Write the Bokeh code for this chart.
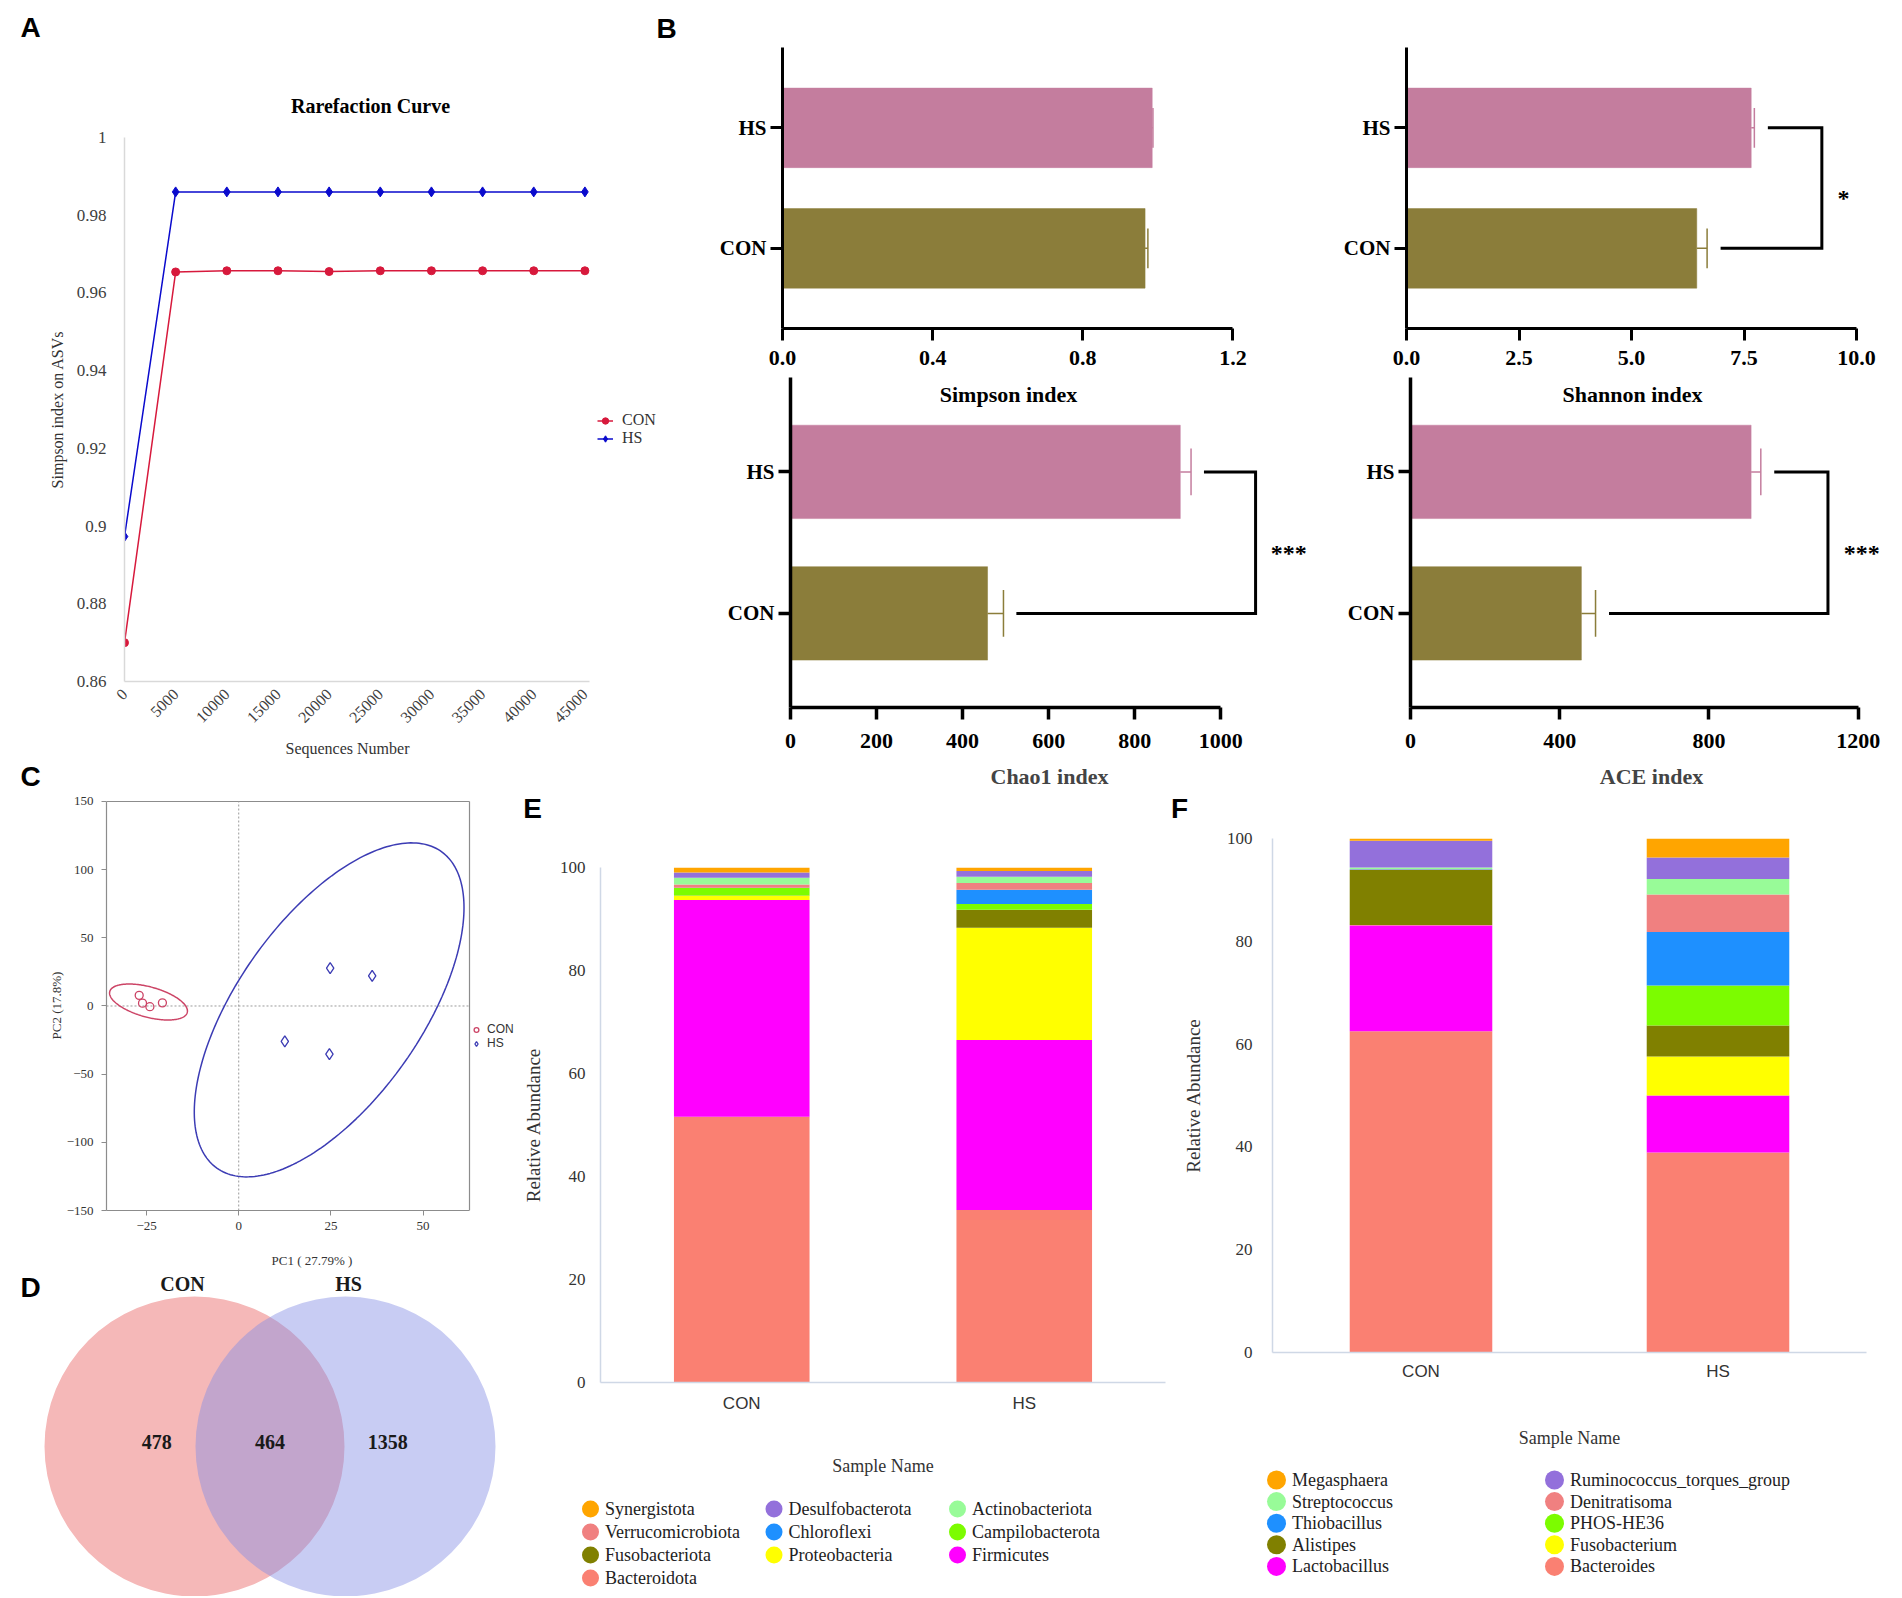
import math
import numpy as np
from bokeh.plotting import figure
from bokeh.models import (Range1d, FactorRange, FixedTicker, PrintfTickFormatter, Label,
                          Legend, LegendItem, ColumnDataSource)
from bokeh.layouts import row, column
from bokeh.embed import file_html
from bokeh.resources import INLINE
from bokeh.core.properties import value

# ---------------- data ----------------
# A: rarefaction curve
seq_depth = [0, 5000, 10000, 15000, 20000, 25000, 30000, 35000, 40000, 45000]
rare_con = [0.8700, 0.9654, 0.9657, 0.9657, 0.9655, 0.9657, 0.9657, 0.9657, 0.9657, 0.9657]
rare_hs = [0.8973, 0.9860, 0.9860, 0.9860, 0.9860, 0.9860, 0.9860, 0.9860, 0.9860, 0.9860]
rare_y_ticks = [0.86, 0.88, 0.90, 0.92, 0.94, 0.96, 0.98, 1.0]

# B: alpha diversity (mean, error)
groups = ["CON", "HS"]
group_colors = ["#8B7D3A", "#C47D9E"]
simpson_mean = [0.966, 0.985]
simpson_err = [0.0075, 0.002]
shannon_mean = [6.45, 7.66]
shannon_err = [0.23, 0.07]
chao1_mean = [458, 906]
chao1_err = [37, 25]
ace_mean = [458, 913]
ace_err = [38, 26]
simpson_ticks = [0, 0.4, 0.8, 1.2]
shannon_ticks = [0, 2.5, 5, 7.5, 10]
chao1_ticks = [0, 200, 400, 600, 800, 1000]
ace_ticks = [0, 400, 800, 1200]
sig_marks = ["", "*", "***", "***"]

# C: PCA
pca_con_x = [-27.0, -26.1, -24.1, -20.7]
pca_con_y = [7.8, 2.1, -0.5, 2.3]
pca_hs_x = [24.8, 36.2, 12.5, 24.6]
pca_hs_y = [27.8, 22.1, -26.0, -35.3]
pca_x_ticks = [-25, 0, 25, 50]
pca_y_ticks = [-150, -100, -50, 0, 50, 100, 150]

# D: Venn
venn_sets = ["CON", "HS"]
venn_counts = [478, 464, 1358]   # CON only, shared, HS only

# E: phylum level (legend order = top of stack first)
phylum_names = ["Synergistota", "Desulfobacterota", "Actinobacteriota", "Verrucomicrobiota",
                "Chloroflexi", "Campilobacterota", "Fusobacteriota", "Proteobacteria",
                "Firmicutes", "Bacteroidota"]
phylum_colors = ["#FFA500", "#9370DB", "#98FB98", "#F08080", "#1E90FF", "#7CFC00",
                 "#808000", "#FFFF00", "#FF00FF", "#FA8072"]
phylum_con = [0.95, 1.05, 1.3, 0.65, 0.05, 1.45, 0.05, 0.8, 42.1, 51.6]
phylum_hs = [0.7, 1.1, 1.2, 1.3, 2.8, 1.1, 3.5, 21.8, 33.0, 33.5]

# F: genus level
genus_names = ["Megasphaera", "Ruminococcus_torques_group", "Streptococcus", "Denitratisoma",
               "Thiobacillus", "PHOS-HE36", "Alistipes", "Fusobacterium", "Lactobacillus",
               "Bacteroides"]
genus_colors = ["#FFA500", "#9370DB", "#98FB98", "#F08080", "#1E90FF", "#7CFC00",
                "#808000", "#FFFF00", "#FF00FF", "#FA8072"]
genus_con = [0.5, 5.2, 0.3, 0.05, 0.1, 0.05, 10.7, 0.05, 20.6, 62.5]
genus_hs = [3.7, 4.2, 3.0, 7.3, 10.4, 7.8, 6.0, 7.6, 11.1, 38.9]

SERIF = "Liberation Serif"
SANS = "Liberation Sans"


def mkfig(w, h, left, right, top, bottom, **kw):
    p = figure(width=w, height=h, min_border_left=left, min_border_right=right,
               min_border_top=top, min_border_bottom=bottom, toolbar_location=None,
               output_backend="svg", **kw)
    p.outline_line_color = None
    p.xgrid.grid_line_color = None
    p.ygrid.grid_line_color = None
    p.background_fill_color = "white"
    p.border_fill_color = "white"
    return p


def blank_fig(w, h):
    p = figure(width=w, height=h, x_range=Range1d(0, w), y_range=Range1d(h, 0),
               x_axis_type=None, y_axis_type=None, toolbar_location=None,
               output_backend="svg", min_border=0)
    p.outline_line_color = None
    p.xgrid.grid_line_color = None
    p.ygrid.grid_line_color = None
    return p


def head_fig(w, h, items):
    """items: (x, y, text, size, font, style, color)"""
    p = blank_fig(w, h)
    for (x, y, t, size, font, style, color) in items:
        p.text(x=[x], y=[y], text=[t], text_font=value(font), text_font_size=f"{size}px",
               text_font_style=style, text_align="center", text_baseline="middle",
               text_color=color)
    return p


def add_frame_label(p, fx0, fy1, px, py, text, size, font=SERIF):
    """Label inside a frame; fx0/fy1 = frame left / bottom in page pixels."""
    p.add_layout(Label(x=px - fx0, y=fy1 - py, x_units="screen", y_units="screen", text=text,
                       text_font=font, text_font_size=f"{size}px", text_font_style="bold",
                       text_align="center", text_baseline="middle", text_color="black"))


# ---------------- A (headers hold the panel letters) ----------------
CON_RED = "#D7193C"
HS_BLUE = "#0A0ACD"
pAhead = head_fig(680, 120, [(30, 27, "A", 28, SANS, "bold", "black"),
                             (370, 105, "Rarefaction Curve", 20, SERIF, "bold", "black"),
                             (666, 28, "B", 28, SANS, "bold", "black")])

# frame runs 124..678 px so the legend sits inside; the axis line stops at the last depth
pA = mkfig(680, 617, 124, 2, 17, 56, x_range=Range1d(0, 54149), y_range=Range1d(0.86, 1.0))
la1 = pA.line(seq_depth, rare_con, color=CON_RED, line_width=1.5)
sa1 = pA.scatter(seq_depth, rare_con, marker="circle", size=8, color=CON_RED)
la2 = pA.line(seq_depth, rare_hs, color=HS_BLUE, line_width=1.5)
sa2 = pA.scatter(seq_depth, rare_hs, marker="diamond", size=10, color=HS_BLUE)
pA.xaxis.ticker = FixedTicker(ticks=seq_depth)
pA.xaxis.bounds = (0, 45450)
pA.xaxis.major_label_orientation = math.pi / 4
pA.yaxis.ticker = FixedTicker(ticks=rare_y_ticks)
pA.yaxis.formatter = PrintfTickFormatter(format="%g")
for ax in (pA.xaxis, pA.yaxis):
    ax.axis_line_color = "#D9D9D9"
    ax.axis_line_width = 1.5
    ax.major_tick_out = 0
    ax.major_tick_in = 0
    ax.minor_tick_line_color = None
    ax.major_label_text_font = SERIF
    ax.major_label_text_font_size = "16px"
    ax.major_label_text_color = "#404040"
    ax.axis_label_text_font = SERIF
    ax.axis_label_text_font_size = "16px"
    ax.axis_label_text_font_style = "normal"
    ax.axis_label_text_color = "#333333"
pA.yaxis.major_label_text_font_size = "17px"
pA.yaxis.major_label_standoff = 18
pA.xaxis.major_label_standoff = 10
pA.yaxis.axis_label = "Simpson index on ASVs"
pA.yaxis.axis_label_standoff = 8
legA = Legend(items=[LegendItem(label="CON", renderers=[la1, sa1]),
                     LegendItem(label="HS", renderers=[la2, sa2])],
              location=(473, 234), glyph_width=16, glyph_height=17, label_height=17,
              label_standoff=9, padding=0, margin=0, spacing=0, border_line_color=None,
              background_fill_alpha=0, label_text_font=SERIF, label_text_font_size="16px",
              label_text_color="#333333")
pA.add_layout(legA)

# strip under panel A: its x-axis title (centred under the data area) and letter C
pChead = head_fig(680, 55, [(347, 11, "Sequences Number", 16, SERIF, "normal", "#333333"),
                            (30, 39, "C", 28, SANS, "bold", "black")])


# ---------------- B ----------------
def bar_panel(w, h, left, right, top, bottom, x_end, means, errs, ticks, fmt, mark,
              xlabel=None, axis_w=3, tick_standoff=10, label_standoff=12):
    p = mkfig(w, h, left, right, top, bottom, x_range=Range1d(0, x_end),
              y_range=Range1d(0.335, 2.667))
    ypos = [i + 1 for i in range(len(groups))]
    p.hbar(y=ypos, left=0, right=means, height=0.66, fill_color=group_colors,
           line_color=group_colors, line_width=0.5)
    tops = [m + e for m, e in zip(means, errs)]
    p.segment(x0=means, y0=ypos, x1=tops, y1=ypos, line_color=group_colors, line_width=1.5)
    p.segment(x0=tops, y0=[y - 0.165 for y in ypos], x1=tops, y1=[y + 0.165 for y in ypos],
              line_color=group_colors, line_width=1.5)
    axis_max = ticks[-1]
    if mark:
        gap = 0.03 * axis_max
        xv = max(tops) + 0.15 * axis_max
        p.multi_line(xs=[[tops[0] + gap, xv, xv, tops[1] + gap]],
                     ys=[[ypos[0], ypos[0], ypos[1], ypos[1]]],
                     line_color="black", line_width=3, line_join="miter")
        p.text(x=[xv + 0.035 * axis_max], y=[sum(ypos) / len(ypos)], text=[mark],
               text_font=value(SERIF), text_font_style="bold", text_font_size="24px",
               text_align="left", text_baseline="middle", y_offset=10, text_color="black")
    p.xaxis.ticker = FixedTicker(ticks=ticks)
    p.xaxis.formatter = PrintfTickFormatter(format=fmt)
    p.xaxis.bounds = (0, axis_max)
    p.yaxis.ticker = FixedTicker(ticks=ypos)
    p.yaxis.major_label_overrides = {i + 1: g for i, g in enumerate(groups)}
    for ax in (p.xaxis, p.yaxis):
        ax.axis_line_width = axis_w
        ax.axis_line_color = "black"
        ax.major_tick_line_width = axis_w
        ax.major_tick_out = 12
        ax.major_tick_in = 0
        ax.minor_tick_line_color = None
        ax.major_label_text_font = SERIF
        ax.major_label_text_font_style = "bold"
        ax.major_label_text_color = "black"
    p.xaxis.major_label_text_font_size = "22px"
    p.xaxis.major_label_standoff = tick_standoff
    p.yaxis.major_label_text_font_size = "21px"
    p.yaxis.major_label_standoff = 4
    if xlabel:
        p.xaxis.axis_label = xlabel
        p.xaxis.axis_label_text_font = SERIF
        p.xaxis.axis_label_text_font_style = "bold"
        p.xaxis.axis_label_text_font_size = "22px"
        p.xaxis.axis_label_standoff = label_standoff
    return p


pB1 = bar_panel(630, 373, 102, 2, 47, 45, 1.4014, simpson_mean, simpson_err, simpson_ticks,
                "%.1f", sig_marks[0])
pB2 = bar_panel(590, 373, 96, 8, 47, 45, 10.8, shannon_mean, shannon_err, shannon_ticks,
                "%.1f", sig_marks[1])
pB3 = bar_panel(630, 419, 110, 2, 4, 85, 1204, chao1_mean, chao1_err, chao1_ticks,
                "%d", sig_marks[2], xlabel="Chao1 index", axis_w=3.5,
                tick_standoff=14, label_standoff=13)
pB4 = bar_panel(590, 419, 100, 8, 4, 85, 1292, ace_mean, ace_err, ace_ticks,
                "%d", sig_marks[3], xlabel="ACE index", axis_w=3.5,
                tick_standoff=14, label_standoff=13)
# x-axis titles of the upper two panels sit inside the lower panels' frames
add_frame_label(pB3, 790, 707, 1008, 394, "Simpson index", 22)
add_frame_label(pB4, 1410, 707, 1632, 394, "Shannon index", 22)

# ---------------- C ----------------
CON_C = "#CC4466"
HS_C = "#3C3CB4"
BOX_C = "#8C8C8C"


def ellipse_pts(xs, ys, k=3.78, n=240):
    x = np.array(xs, dtype=float)
    y = np.array(ys, dtype=float)
    mx, my = x.mean(), y.mean()
    sx, sy = x.std(ddof=1), y.std(ddof=1)
    r = np.corrcoef(x, y)[0, 1]
    t = np.linspace(0, 2 * np.pi, n)
    ex = mx + k * sx * np.cos(t)
    ey = my + k * sy * (r * np.cos(t) + np.sqrt(1 - r * r) * np.sin(t))
    return ex, ey


# frame is widened to the right so the legend sits inside it; box drawn at the data limits
xr, yr = (-35.87, 62.6), (-150, 150)
pC = mkfig(519, 478, 106, 2, 8, 56, x_range=Range1d(xr[0], 75.62), y_range=Range1d(yr[0], 150.72))
pC.segment(x0=[xr[0], xr[1]], y0=[yr[1], yr[0]], x1=[xr[1], xr[1]], y1=[yr[1], yr[1]],
           line_color=BOX_C, line_width=1.2)
pC.segment(x0=[0, xr[0]], y0=[yr[0], 0], x1=[0, xr[1]], y1=[yr[1], 0], line_dash="2 2",
           line_color="#9A9A9A", line_width=1)
ecx, ecy = ellipse_pts(pca_con_x, pca_con_y)
ehx, ehy = ellipse_pts(pca_hs_x, pca_hs_y)
pC.line(ecx, ecy, line_color=CON_C, line_width=1.5)
pC.line(ehx, ehy, line_color=HS_C, line_width=1.5)
sc1 = pC.scatter(pca_con_x, pca_con_y, marker="circle", size=8, fill_color=None,
                 line_color=CON_C, line_width=1.3)
sc2 = pC.scatter(pca_hs_x, pca_hs_y, marker="diamond", size=11, fill_color=None,
                 line_color=HS_C, line_width=1.3)
pC.xaxis.ticker = FixedTicker(ticks=pca_x_ticks)
pC.yaxis.ticker = FixedTicker(ticks=pca_y_ticks)
pC.xaxis.bounds = xr
pC.yaxis.bounds = yr
for ax in (pC.xaxis, pC.yaxis):
    ax.axis_line_color = BOX_C
    ax.axis_line_width = 1.2
    ax.major_tick_line_color = BOX_C
    ax.major_tick_out = 5
    ax.major_tick_in = 0
    ax.minor_tick_line_color = None
    ax.major_label_text_font = SERIF
    ax.major_label_text_font_size = "13px"
    ax.major_label_text_color = "#333333"
    ax.axis_label_text_font = SERIF
    ax.axis_label_text_font_size = "13px"
    ax.axis_label_text_font_style = "normal"
    ax.axis_label_text_color = "#333333"
pC.xaxis.major_label_standoff = 6
pC.yaxis.major_label_standoff = 8
pC.xaxis.axis_label = "PC1 ( 27.79% )"
pC.xaxis.axis_label_standoff = 20
pC.yaxis.axis_label = "PC2 (17.8%)"
pC.yaxis.axis_label_standoff = 0
legC = Legend(items=[LegendItem(label="CON", renderers=[sc1]),
                     LegendItem(label="HS", renderers=[sc2])],
              location=(364, 160), glyph_width=12, glyph_height=13, label_height=13,
              label_standoff=5, padding=0, margin=0, spacing=0, border_line_color=None,
              background_fill_alpha=0, label_text_font=SANS, label_text_font_size="12px",
              label_text_color="#333333")
pC.add_layout(legC)

# ---------------- D ----------------
pD = figure(width=519, height=326, x_range=Range1d(-1.7848, 1.6523),
            y_range=Range1d(-0.9934, 1.1656), x_axis_type=None, y_axis_type=None,
            toolbar_location=None, output_backend="svg", min_border=0)
pD.outline_line_color = None
pD.xgrid.grid_line_color = None
pD.ygrid.grid_line_color = None
venn_x = [-0.5, 0.5]
venn_r = 0.9934
pD.circle(x=[venn_x[0]], y=[0], radius=venn_r, fill_color="#F5B8B8", line_color=None)
pD.circle(x=[venn_x[1]], y=[0], radius=venn_r, fill_color="#858EE4", fill_alpha=0.45,
          line_color=None)
num_x = [venn_x[0] - 0.25, (venn_x[0] + venn_x[1]) / 2, venn_x[1] + 0.28]
pD.text(x=num_x, y=[0, 0, 0], text=[str(c) for c in venn_counts], text_font=value(SERIF),
        text_font_style="bold", text_font_size="20px", text_align="center",
        text_baseline="middle", y_offset=-5, text_color="#1a1a1a")
pD.text(x=venn_x, y=[1.078, 1.078], text=venn_sets, x_offset=[-12, 3], text_font=value(SERIF),
        text_font_style="bold", text_font_size="20px", text_align="center",
        text_baseline="middle", text_color="#1a1a1a")
add_frame_label(pD, 0, 1596, 30, 1287, "D", 28, font=SANS)


# ---------------- E / F ----------------
def stack_panel(w, h, left, right, top, bottom, names, colors, con_vals, hs_vals,
                tick_standoff, ylab_standoff, xtick_standoff, xlab_standoff):
    p = mkfig(w, h, left, right, top, bottom, x_range=FactorRange(factors=groups),
              y_range=Range1d(0, 100))
    data = {"group": groups}
    for n, a, b in zip(names, con_vals, hs_vals):
        data[n] = [a, b]
    src = ColumnDataSource(data=data)
    p.vbar_stack(stackers=list(reversed(names)), x="group", width=0.48, source=src,
                 fill_color=list(reversed(colors)), line_color=None)
    p.yaxis.ticker = FixedTicker(ticks=[0, 20, 40, 60, 80, 100])
    for ax in (p.xaxis, p.yaxis):
        ax.axis_line_color = "#CFD8E6"
        ax.axis_line_width = 1.5
        ax.major_tick_out = 0
        ax.major_tick_in = 0
        ax.minor_tick_line_color = None
        ax.axis_label_text_font = SERIF
        ax.axis_label_text_font_style = "normal"
        ax.axis_label_text_color = "#333333"
    p.yaxis.major_label_text_font = SERIF
    p.yaxis.major_label_text_font_size = "17px"
    p.yaxis.major_label_text_color = "#333333"
    p.yaxis.major_label_standoff = tick_standoff
    p.yaxis.axis_label = "Relative Abundance"
    p.yaxis.axis_label_text_font_size = "19px"
    p.yaxis.axis_label_standoff = ylab_standoff
    p.xaxis.major_label_text_font = SANS
    p.xaxis.major_label_text_font_size = "17px"
    p.xaxis.major_label_text_color = "#333333"
    p.xaxis.major_label_standoff = xtick_standoff
    p.xaxis.axis_label = "Sample Name"
    p.xaxis.axis_label_text_font_size = "18px"
    p.xaxis.axis_label_standoff = xlab_standoff
    return p


def legend_fig(w, h, names, colors, ncols, x0, dx, y0, dy, msize, tgap, fsize):
    p = blank_fig(w, h)
    idx = range(len(names))
    xs = [x0 + (i % ncols) * dx for i in idx]
    ys = [y0 + (i // ncols) * dy for i in idx]
    p.scatter(xs, ys, marker="circle", size=msize, fill_color=colors, line_color=None)
    p.text(x=[x + tgap for x in xs], y=ys, text=names, text_font=value(SERIF),
           text_font_size=f"{fsize}px", text_align="left", text_baseline="middle",
           text_color="#222222")
    return p


pEhead = head_fig(649, 32, [(13, 16, "E", 28, SANS, "bold", "black")])
pE = stack_panel(649, 666, 75, 3, 43, 108, phylum_names, phylum_colors, phylum_con, phylum_hs,
                 15, 13, 11, 40)
pEleg = legend_fig(649, 106, phylum_names, phylum_colors, 3, 71, 183.5, 18.6, 23, 17, 14.6, 18)

pFhead = head_fig(732, 32, [(11, 16, "F", 28, SANS, "bold", "black")])
pF = stack_panel(732, 638, 104, 34, 14, 110, genus_names, genus_colors, genus_con, genus_hs,
                 20, 20, 9, 44)
pFleg = legend_fig(732, 134, genus_names, genus_colors, 2, 108, 278, 17.5, 21.6, 19, 15.6, 18)

layout = column(
    row(column(row(pAhead), row(pA), row(pChead)),
        column(row(pB1, pB2), row(pB3, pB4))),
    row(column(row(pC), row(pD)),
        column(row(pEhead), row(pE), row(pEleg)),
        column(row(pFhead), row(pF), row(pFleg))),
)

with open("out.html", "w") as f:
    f.write(file_html(layout, INLINE))
